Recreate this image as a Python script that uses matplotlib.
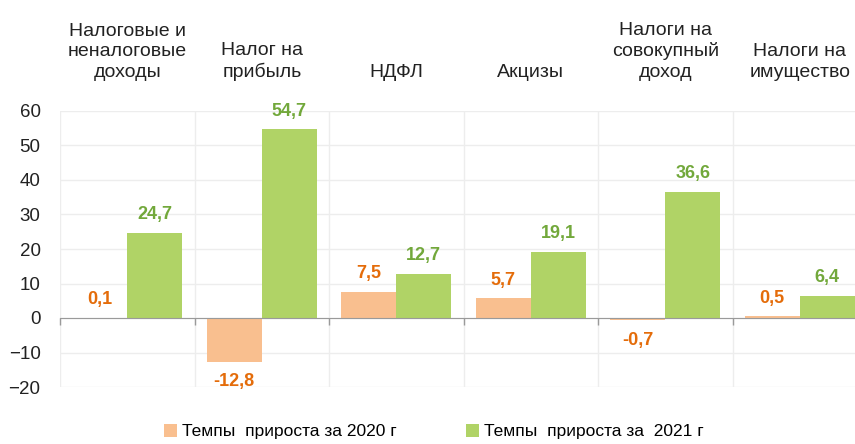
import numpy as np
import matplotlib.pyplot as plt

plt.rcParams['font.family'] = ['Liberation Sans', 'DejaVu Sans']

# Данные
категории = ["Налоговые и\nненалоговые\nдоходы", "Налог на\nприбыль", "НДФЛ",
             "Акцизы", "Налоги на\nсовокупный\nдоход", "Налоги на\nимущество"]
темпы_2020 = [0.1, -12.8, 7.5, 5.7, -0.7, 0.5]
темпы_2021 = [24.7, 54.7, 12.7, 19.1, 36.6, 6.4]
подписи = ["Темпы  прироста за 2020 г", "Темпы  прироста за  2021 г"]

цвет_2020 = "#F9BF8F"
цвет_2021 = "#B0D366"
текст_2020 = "#E46C0A"
текст_2021 = "#72A83B"
сетка = "#EDEDED"
ось = "#9A9A9A"

fig = plt.figure(figsize=(8.55, 4.44), dpi=100)
ax = fig.add_axes([60 / 855, 57 / 444, 807 / 855, 276 / 444])

x = np.arange(len(категории))
w = 0.41
b1 = ax.bar(x - 0.205, темпы_2020, w, color=цвет_2020, label=подписи[0], zorder=2)
b2 = ax.bar(x + 0.205, темпы_2021, w, color=цвет_2021, label=подписи[1], zorder=2)

# Подписи значений
for bars, vals, col in [(b1, темпы_2020, текст_2020), (b2, темпы_2021, текст_2021)]:
    for bar, v in zip(bars, vals):
        cx = bar.get_x() + bar.get_width() / 2
        txt = f"{v:.1f}".replace(".", ",")
        if v >= 0:
            ax.annotate(txt, (cx, v), xytext=(0, 7), textcoords="offset points",
                        ha="center", va="bottom", fontsize=13, fontweight="bold", color=col)
        else:
            ax.annotate(txt, (cx, v), xytext=(0, -8), textcoords="offset points",
                        ha="center", va="top", fontsize=13, fontweight="bold", color=col)

# Оси и сетка
ax.set_xlim(-0.5, len(категории) - 0.5)
ax.set_ylim(-20, 60)
ax.set_yticks(np.arange(-20, 61, 10))
for yv in np.arange(-20, 61, 10):
    ax.axhline(yv, color=сетка, lw=1, zorder=0)
for xv in np.arange(-0.5, len(категории), 1):
    ax.axvline(xv, color=сетка, lw=1, zorder=0)

# нулевая линия с засечками между группами
ax.spines["bottom"].set_position(("data", 0))
ax.spines["bottom"].set_color(ось)
ax.spines["bottom"].set_zorder(3)
for s in ["top", "right", "left"]:
    ax.spines[s].set_visible(False)
ax.set_xticks(np.arange(-0.5, len(категории), 1))
ax.set_xticklabels([])
ax.tick_params(axis="x", length=5, width=1, color=ось, direction="out")
ax.tick_params(axis="y", length=0, pad=14, labelsize=13.5, labelcolor="#222222")

# Заголовки категорий
for i, c in enumerate(категории):
    ax.text(i, 1.11, c, transform=ax.get_xaxis_transform(), ha="center", va="bottom",
            fontsize=14, color="#222222", linespacing=1.25)

fig.legend(handles=[b1, b2], labels=подписи, loc="lower center",
           bbox_to_anchor=(434 / 855, -0.025), ncol=2, frameon=False, fontsize=12.5,
           handlelength=0.75, handleheight=0.75, handletextpad=0.3, columnspacing=4.0)

fig.savefig("out.png", dpi=100)
